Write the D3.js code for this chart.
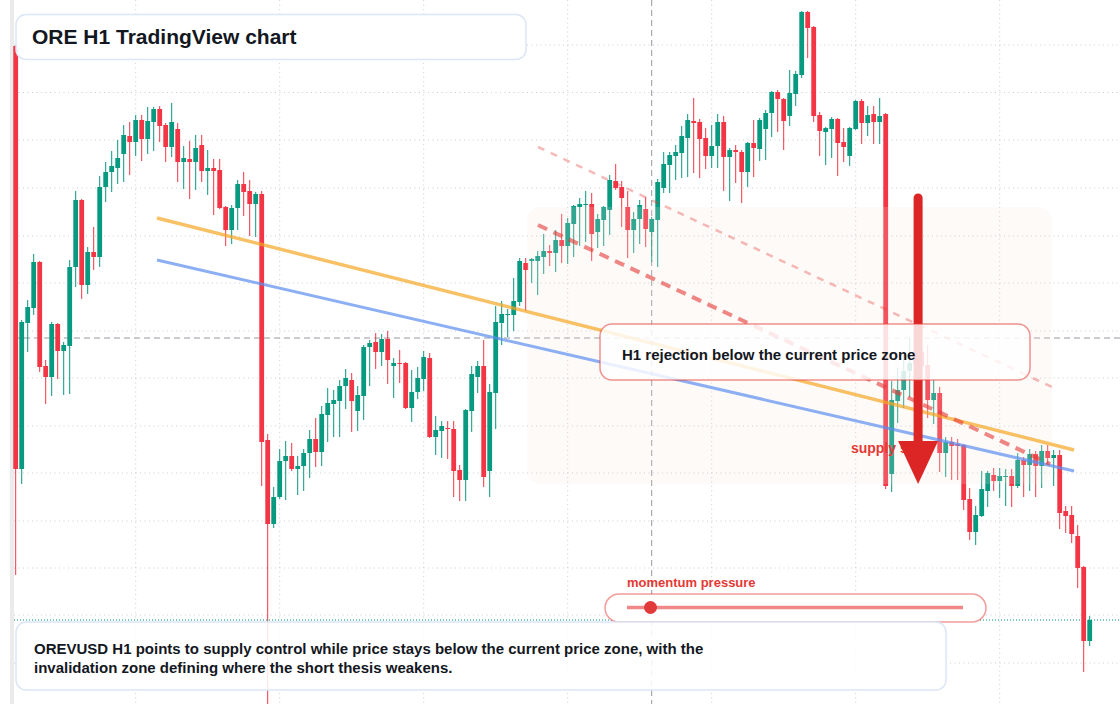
<!DOCTYPE html>
<html>
<head>
<meta charset="utf-8">
<script src="https://cdn.jsdelivr.net/npm/d3@7"></script>
<style>
  body { margin: 0; background: #fff; }
  svg { display: block; font-family: "Liberation Sans", Arial, sans-serif; }
</style>
</head>
<body>
<div id="chart"></div>
<script>
// OREVUSD hourly candles (one value per bar)
var opens = [1.654,1.231,1.377,1.392,1.438,1.334,1.323,1.376,1.349,1.354,
  1.433,1.500,1.415,1.448,1.443,1.513,1.528,1.532,1.546,1.564,
  1.558,1.580,1.561,1.578,1.591,1.575,1.553,1.571,1.538,1.541,
  1.538,1.555,1.529,1.532,1.530,1.493,1.470,1.492,1.516,1.509,
  1.496,1.506,1.260,1.176,1.203,1.239,1.244,1.231,1.234,1.247,
  1.261,1.248,1.285,1.296,1.299,1.314,1.320,1.289,1.304,1.353,
  1.358,1.348,1.361,1.334,1.337,1.337,1.292,1.308,1.321,1.342,
  1.263,1.269,1.272,1.271,1.230,1.220,1.289,1.323,1.334,1.229,
  1.307,1.377,1.385,1.385,1.398,1.437,1.439,1.439,1.443,1.449,
  1.447,1.460,1.454,1.476,1.493,1.495,1.496,1.468,1.480,1.490,
  1.519,1.513,1.493,1.470,1.481,1.491,1.468,1.480,1.512,1.535,
  1.544,1.547,1.562,1.579,1.578,1.562,1.544,1.554,1.578,1.543,
  1.550,1.548,1.528,1.557,1.551,1.571,1.587,1.608,1.601,1.584,
  1.606,1.625,1.688,1.673,1.585,1.568,1.571,1.581,1.558,1.544,
  1.571,1.599,1.577,1.586,1.578,1.586,1.226,1.299,1.310,1.329,
  1.337,1.348,1.335,1.300,1.307,1.247,1.258,1.256,1.255,1.201,
  1.168,1.184,1.209,1.225,1.219,1.223,1.224,1.214,1.240,1.235,
  1.246,1.234,1.249,1.242,1.245,1.189,1.185,1.164,1.133,1.059];

var highs = [1.655,1.380,1.400,1.446,1.439,1.340,1.378,1.377,1.358,1.440,
  1.509,1.501,1.453,1.473,1.524,1.538,1.549,1.560,1.575,1.578,
  1.585,1.585,1.593,1.593,1.594,1.577,1.597,1.577,1.554,1.559,
  1.565,1.565,1.550,1.541,1.541,1.494,1.495,1.520,1.528,1.520,
  1.508,1.509,1.266,1.213,1.251,1.259,1.257,1.244,1.251,1.270,
  1.282,1.294,1.312,1.310,1.320,1.331,1.327,1.314,1.355,1.360,
  1.367,1.366,1.369,1.342,1.350,1.338,1.330,1.333,1.349,1.347,
  1.284,1.279,1.279,1.279,1.235,1.291,1.334,1.339,1.360,1.316,
  1.394,1.399,1.391,1.422,1.442,1.442,1.442,1.449,1.466,1.455,
  1.470,1.486,1.482,1.495,1.502,1.509,1.507,1.486,1.494,1.525,
  1.536,1.519,1.509,1.488,1.500,1.503,1.483,1.521,1.548,1.548,
  1.555,1.574,1.586,1.602,1.581,1.572,1.575,1.586,1.584,1.552,
  1.555,1.550,1.558,1.580,1.582,1.590,1.609,1.610,1.602,1.630,
  1.629,1.689,1.689,1.674,1.588,1.573,1.583,1.582,1.572,1.573,
  1.600,1.601,1.594,1.594,1.602,1.587,1.319,1.332,1.345,1.362,
  1.356,1.360,1.355,1.320,1.313,1.263,1.263,1.261,1.256,1.212,
  1.194,1.229,1.229,1.232,1.232,1.231,1.231,1.247,1.243,1.251,
  1.249,1.255,1.255,1.250,1.250,1.194,1.194,1.175,1.134,1.084];

var lows = [1.125,1.216,1.348,1.385,1.328,1.296,1.304,1.321,1.305,1.306,
  1.413,1.401,1.406,1.430,1.433,1.498,1.508,1.516,1.518,1.525,
  1.544,1.539,1.546,1.549,1.558,1.538,1.543,1.518,1.511,1.501,
  1.510,1.518,1.505,1.485,1.491,1.454,1.456,1.470,1.484,1.464,
  1.463,1.214,0.985,1.172,1.201,1.200,1.229,1.205,1.209,1.222,
  1.233,1.234,1.258,1.263,1.263,1.291,1.268,1.269,1.280,1.314,
  1.331,1.334,1.316,1.302,1.317,1.291,1.278,1.301,1.309,1.262,
  1.245,1.242,1.241,1.203,1.199,1.199,1.268,1.307,1.213,1.203,
  1.271,1.355,1.363,1.369,1.394,1.389,1.417,1.405,1.426,1.434,
  1.428,1.437,1.436,1.443,1.454,1.458,1.439,1.452,1.454,1.465,
  1.510,1.473,1.442,1.447,1.456,1.453,1.438,1.433,1.507,1.507,
  1.520,1.522,1.523,1.527,1.522,1.531,1.532,1.532,1.509,1.499,
  1.517,1.497,1.513,1.523,1.539,1.540,1.563,1.568,1.550,1.574,
  1.594,1.622,1.642,1.578,1.544,1.535,1.542,1.524,1.538,1.534,
  1.570,1.556,1.564,1.556,1.556,1.211,1.208,1.277,1.292,1.303,
  1.322,1.328,1.282,1.276,1.228,1.223,1.220,1.220,1.190,1.160,
  1.155,1.183,1.193,1.209,1.202,1.194,1.193,1.212,1.203,1.209,
  1.203,1.212,1.235,1.214,1.171,1.167,1.157,1.112,1.028,1.054];

var closes = [1.231,1.378,1.393,1.438,1.333,1.323,1.376,1.349,1.355,1.433,
  1.500,1.415,1.448,1.443,1.513,1.528,1.534,1.542,1.565,1.558,
  1.580,1.561,1.579,1.591,1.574,1.553,1.578,1.538,1.542,1.538,
  1.552,1.529,1.532,1.529,1.492,1.470,1.492,1.516,1.508,1.496,
  1.506,1.258,1.176,1.203,1.239,1.244,1.231,1.234,1.247,1.261,
  1.248,1.286,1.297,1.300,1.314,1.322,1.299,1.305,1.353,1.357,
  1.348,1.361,1.340,1.337,1.336,1.292,1.308,1.322,1.343,1.263,
  1.270,1.274,1.271,1.229,1.220,1.290,1.326,1.334,1.223,1.308,
  1.378,1.386,1.386,1.399,1.439,1.430,1.441,1.444,1.449,1.447,
  1.460,1.454,1.477,1.494,1.496,1.496,1.466,1.481,1.493,1.520,
  1.512,1.502,1.470,1.481,1.495,1.471,1.481,1.518,1.536,1.545,
  1.548,1.564,1.580,1.577,1.561,1.544,1.554,1.578,1.543,1.550,
  1.548,1.528,1.557,1.552,1.580,1.587,1.608,1.601,1.579,1.607,
  1.626,1.688,1.672,1.584,1.569,1.572,1.581,1.557,1.553,1.572,
  1.599,1.577,1.585,1.578,1.584,1.214,1.300,1.310,1.329,1.337,
  1.348,1.334,1.300,1.307,1.247,1.258,1.254,1.254,1.200,1.168,
  1.185,1.211,1.227,1.219,1.224,1.224,1.214,1.240,1.235,1.246,
  1.234,1.249,1.242,1.245,1.187,1.184,1.166,1.132,1.059,1.080];

// grid: price levels and bar indexes (daily separators)
var gridPrices = [1.655,1.6075,1.560,1.512,1.464,1.417,1.369,1.322,1.274,1.227,1.179,1.132,1.085,1.037];
var gridBars = [20,44,68,92,116,140,164];

// crosshair (bar, price) and trend drawings as [bar, price] points
var crossBar = 106, crossPrice = 1.362;
var orangeTrend = [[23.55,1.482],[176.4,1.250]];
var blueTrend = [[23.55,1.440],[176.4,1.229]];
var supplyLine = [[87.05,1.475],[172.4,1.236]];
var upperLine = [[87.05,1.553],[172.7,1.313]];
var zoneBars = [85.2,172.7], zonePrices = [1.216,1.493];
var arrowBar = 150.4, arrowPrices = [1.502,1.259,1.216];
var supplyLabel = {bar: 139.2, price: 1.247, text: "supply side"};

var titleText = "ORE H1 TradingView chart";
var noteText = "H1 rejection below the current price zone";
var momentumText = "momentum pressure";
var summaryLines = ["OREVUSD H1 points to supply control while price stays below the current price zone, with the",
  "invalidation zone defining where the short thesis weakens."];

var svgWidth = 1120, svgHeight = 704;
var green = "#089981", red = "#f23645";

var svg = d3.select("#chart").append("svg")
  .attr("width", svgWidth)
  .attr("height", svgHeight);

var bars = d3.range(opens.length);

var xScale = d3.scaleLinear().domain([0, 179]).range([15.7, 1089.7]);
var yScale = d3.scaleLinear().domain([0.996, 1.700]).range([704, 0]);

svg.append("rect").attr("width", svgWidth).attr("height", svgHeight).attr("fill", "#fff");
svg.append("rect").attr("x", 10).attr("width", 4).attr("height", svgHeight).attr("fill", "#ebebeb");

// grid
var grid = svg.append("g").attr("stroke", "#c9ccd1").attr("stroke-dasharray", "1,3.5");
grid.selectAll(".hg").data(gridPrices).enter().append("line")
  .attr("x1", 14).attr("x2", svgWidth)
  .attr("y1", d => yScale(d)).attr("y2", d => yScale(d));
grid.selectAll(".vg").data(gridBars).enter().append("line")
  .attr("y1", 0).attr("y2", svgHeight)
  .attr("x1", d => xScale(d)).attr("x2", d => xScale(d));

// crosshair
svg.append("line")
  .attr("x1", xScale(crossBar)).attr("x2", xScale(crossBar))
  .attr("y1", 0).attr("y2", svgHeight)
  .attr("stroke", "#9598a1").attr("stroke-dasharray", "6,4");
svg.append("line")
  .attr("x1", 14).attr("x2", svgWidth)
  .attr("y1", yScale(crossPrice)).attr("y2", yScale(crossPrice))
  .attr("stroke", "#9598a1").attr("stroke-dasharray", "6,4");

// last price line
var last = closes[closes.length - 1];
svg.append("line")
  .attr("x1", 14).attr("x2", svgWidth)
  .attr("y1", yScale(last)).attr("y2", yScale(last))
  .attr("stroke", green).attr("stroke-dasharray", "1,2");

// candles
var candle = svg.append("g").selectAll("g").data(bars).enter().append("g")
  .attr("fill", i => closes[i] >= opens[i] ? green : red)
  .attr("stroke", i => closes[i] >= opens[i] ? green : red);
candle.append("line")
  .attr("x1", i => xScale(i)).attr("x2", i => xScale(i))
  .attr("y1", i => yScale(highs[i])).attr("y2", i => yScale(lows[i]));
candle.append("rect")
  .attr("stroke", "none")
  .attr("x", i => xScale(i) - 2.4)
  .attr("width", 4.8)
  .attr("y", i => yScale(Math.max(opens[i], closes[i])))
  .attr("height", i => Math.max(1, Math.abs(yScale(opens[i]) - yScale(closes[i]))));

// shaded zone
svg.append("rect")
  .attr("x", xScale(zoneBars[0]))
  .attr("width", xScale(zoneBars[1]) - xScale(zoneBars[0]))
  .attr("y", yScale(zonePrices[1]))
  .attr("height", yScale(zonePrices[0]) - yScale(zonePrices[1]))
  .attr("rx", 14)
  .attr("fill", "rgb(246,226,214)").attr("fill-opacity", 0.18);

var line = d3.line().x(d => xScale(d[0])).y(d => yScale(d[1]));

svg.append("path").attr("d", line(orangeTrend))
  .attr("stroke", "#f5a623").attr("stroke-opacity", 0.7).attr("stroke-width", 3.5).attr("fill", "none");
svg.append("path").attr("d", line(blueTrend))
  .attr("stroke", "#5b8def").attr("stroke-opacity", 0.7).attr("stroke-width", 3).attr("fill", "none");
svg.append("path").attr("d", line(upperLine))
  .attr("stroke", "#e53935").attr("stroke-opacity", 0.35).attr("stroke-width", 2.5)
  .attr("stroke-dasharray", "7,7").attr("fill", "none");
svg.append("path").attr("d", line(supplyLine))
  .attr("stroke", "#e53935").attr("stroke-opacity", 0.6).attr("stroke-width", 4)
  .attr("stroke-dasharray", "10,7").attr("fill", "none");

// supply label (partly hidden by the arrow)
svg.append("text")
  .attr("x", xScale(supplyLabel.bar)).attr("y", yScale(supplyLabel.price))
  .attr("fill", "#e53935").attr("font-size", 14).attr("font-weight", "bold")
  .text(supplyLabel.text);

// arrow
var ax = xScale(arrowBar);
svg.append("line")
  .attr("x1", ax).attr("x2", ax)
  .attr("y1", yScale(arrowPrices[0])).attr("y2", yScale(arrowPrices[1]) + 2)
  .attr("stroke", "#dc2626").attr("stroke-width", 9).attr("stroke-linecap", "round");
svg.append("path")
  .attr("d", `M${ax - 20},${yScale(arrowPrices[1])}L${ax + 20},${yScale(arrowPrices[1])}L${ax},${yScale(arrowPrices[2])}Z`)
  .attr("fill", "#dc2626");

// rejection note
svg.append("rect")
  .attr("x", 600).attr("y", 324).attr("width", 430).attr("height", 56).attr("rx", 12)
  .attr("fill", "#fff").attr("fill-opacity", 0.82)
  .attr("stroke", "#e53935").attr("stroke-opacity", 0.55).attr("stroke-width", 1.5);
svg.append("text")
  .attr("x", 622).attr("y", 359.5)
  .attr("fill", "#131722").attr("font-size", 15).attr("font-weight", "bold")
  .text(noteText);

// title
svg.append("rect")
  .attr("x", 16).attr("y", 14.5).attr("width", 510).attr("height", 45).attr("rx", 10)
  .attr("fill", "#fff").attr("fill-opacity", 0.94)
  .attr("stroke", "#dbe6f7").attr("stroke-width", 1.5);
svg.append("text")
  .attr("x", 32).attr("y", 44)
  .attr("fill", "#131722").attr("font-size", 21).attr("font-weight", "bold")
  .text(titleText);

// momentum gauge
svg.append("text")
  .attr("x", 627).attr("y", 587)
  .attr("fill", "#e53935").attr("font-size", 13).attr("font-weight", "bold")
  .text(momentumText);
svg.append("rect")
  .attr("x", 605).attr("y", 594).attr("width", 381).attr("height", 28).attr("rx", 14)
  .attr("fill", "#fff")
  .attr("stroke", "#e53935").attr("stroke-opacity", 0.5).attr("stroke-width", 1.5);
svg.append("line")
  .attr("x1", 627).attr("x2", 963).attr("y1", 607.5).attr("y2", 607.5)
  .attr("stroke", "#e53935").attr("stroke-opacity", 0.6).attr("stroke-width", 3.5);
svg.append("circle")
  .attr("cx", 650.5).attr("cy", 607.5).attr("r", 6.5).attr("fill", "#e03a3a");

// summary box
svg.append("rect")
  .attr("x", 16).attr("y", 622).attr("width", 930).attr("height", 68).attr("rx", 10)
  .attr("fill", "#fff").attr("fill-opacity", 0.86)
  .attr("stroke", "#dbe6f7").attr("stroke-width", 1.5);
svg.append("g").selectAll("text").data(summaryLines).enter().append("text")
  .attr("x", 34).attr("y", (d, k) => 653.5 + k * 19.5)
  .attr("fill", "#131722").attr("font-size", 15).attr("font-weight", "bold")
  .text(d => d);
</script>
</body>
</html>
